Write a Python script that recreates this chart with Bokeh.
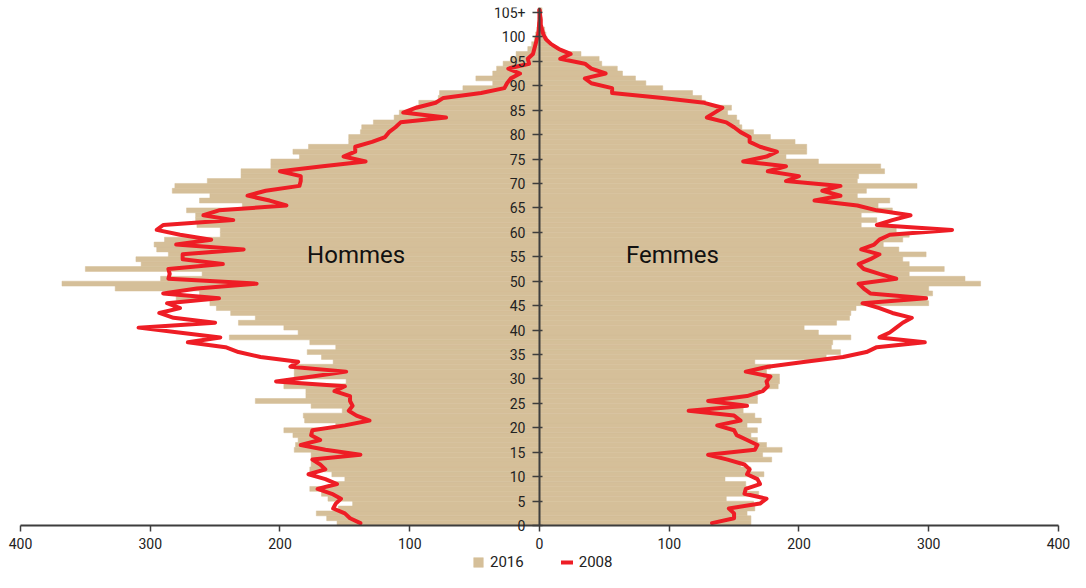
import numpy as np
from bokeh.plotting import figure
from bokeh.models import (LinearAxis, FixedTicker, Legend, LegendItem, Label,
                          ColumnDataSource, Range1d)
from bokeh.embed import file_html
from bokeh.resources import INLINE

# ---------------- data ----------------
ages = list(range(106))
y_ticks = list(range(0, 106, 5))
y_tick_labels = [str(t) for t in y_ticks[:-1]] + ["105+"]
x_ticks = [-400, -300, -200, -100, 0, 100, 200, 300, 400]
x_tick_labels = ["400", "300", "200", "100", "0", "100", "200", "300", "400"]
side_labels = ["Hommes", "Femmes"]
series_labels = ["2016", "2008"]

men_2016 = [156,164,172,155,144,163,168,177,158,150,160,177,176,176,176,189,188,186,190,197,
            157,181,182,152,176,219,180,180,197,149,189,189,189,159,168,179,157,177,239,186,
            197,232,219,238,249,254,280,262,327,368,292,260,350,307,311,286,295,297,289,246,
            246,264,265,265,272,229,262,254,283,281,256,230,230,207,207,185,190,178,147,147,
            138,137,128,112,108,95,93,78,77,59,36,49,36,33,28,22,18,9,6,4,
            3,2,1.5,1,0.5,1]
women_2016 = [163,163,160,166,165,144,169,160,159,143,173,163,155,179,172,187,175,168,163,168,
              160,171,166,157,157,168,168,170,184,185,185,175,178,166,221,232,225,226,240,215,
              204,229,239,240,244,300,299,303,300,340,328,285,312,285,280,298,277,265,280,285,
              275,248,260,248,272,261,270,245,252,291,245,246,266,263,215,190,206,206,197,178,
              165,156,154,152,145,148,128,125,118,95,82,74,64,60,48,46,32,14,8,6,
              5,4,2,2,1,2]
men_2008 = [138,146,150,159,157,153,160,171,156,165,178,165,169,175,138,165,184,169,176,175,
            150,131,141,147,144,146,146,158,150,203,175,149,192,186,215,232,242,271,246,278,
            309,250,282,293,277,287,247,290,264,218,286,285,286,244,275,275,228,280,253,277,
            295,290,236,259,247,195,208,225,211,185,184,184,200,167,134,151,142,142,129,119,
            116,111,107,72,105,95,80,74,45,27,25,22,15,24,8,9,5,4,3,2,
            1,0.5,0.3,0,0,0]
women_2008 = [133,150,150,146,170,175,158,159,170,168,160,162,158,145,130,166,168,160,152,150,
              137,155,150,115,160,130,160,172,176,175,178,159,176,205,234,252,260,297,262,270,
              275,280,287,272,262,249,298,255,250,246,275,262,250,246,255,262,248,258,262,270,
              318,260,272,286,260,245,212,232,218,232,190,200,176,190,157,175,183,170,162,162,
              155,150,144,129,135,141,127,95,56,56,40,35,51,40,35,16,24,15,9,5,
              3,2,1,1,0.5,0]

# ---------------- styles ----------------
FONT = "Roboto"
BAR = "#D5BF99"
RED = "#EE1D25"
AXIS = "#3d3d3d"
TXT = "#222222"

age_mid = np.array(ages) + 0.5
src = ColumnDataSource(dict(
    y=age_mid,
    men_left=-np.array(men_2016, dtype=float),
    women_right=np.array(women_2016, dtype=float),
    men_08=-np.array(men_2008, dtype=float),
    women_08=np.array(women_2008, dtype=float),
    zero=np.zeros(len(ages)),
))

# the frame fills the whole canvas; the ranges extend a little beyond the
# data so that the axes (fixed at 0) and the legend sit inside the frame
p = figure(width=1070, height=572, x_range=Range1d(-415.4, 409.3), y_range=Range1d(-9.6, 106),
           output_backend="svg", toolbar_location=None,
           x_axis_location=None, y_axis_location=None,
           min_border_left=0, min_border_right=0, min_border_top=7, min_border_bottom=0)
p.xgrid.visible = False
p.ygrid.visible = False
p.outline_line_color = None
p.background_fill_color = "white"

bars_m = p.hbar(y="y", left="men_left", right="zero", height=1, source=src,
                fill_color=BAR, line_color=BAR, line_width=0.5)
p.hbar(y="y", left="zero", right="women_right", height=1, source=src,
       fill_color=BAR, line_color=BAR, line_width=0.5)
line_m = p.line(x="men_08", y="y", source=src, line_color=RED, line_width=4,
                line_join="round", line_cap="round")
p.line(x="women_08", y="y", source=src, line_color=RED, line_width=4,
       line_join="round", line_cap="round")

# x axis at age 0
xa = LinearAxis(fixed_location=0, ticker=FixedTicker(ticks=x_ticks),
                major_label_overrides=dict(zip(x_ticks, x_tick_labels)),
                bounds=(-400, 400))
xa.minor_tick_line_color = None
xa.axis_line_color = AXIS
xa.axis_line_width = 2
xa.major_tick_line_color = AXIS
xa.major_tick_line_width = 1.5
xa.major_tick_out = 6
xa.major_tick_in = 0
xa.major_label_standoff = 6
xa.major_label_text_font = FONT
xa.major_label_text_font_size = "14px"
xa.major_label_text_color = TXT
p.add_layout(xa, "below")

# central y axis
ya = LinearAxis(fixed_location=0, ticker=FixedTicker(ticks=y_ticks),
                major_label_overrides=dict(zip(y_ticks, y_tick_labels)),
                bounds=(0, 106))
ya.minor_tick_line_color = None
ya.axis_line_color = AXIS
ya.axis_line_width = 2
ya.major_tick_line_color = AXIS
ya.major_tick_line_width = 1.5
ya.major_tick_out = 7
ya.major_tick_in = 3
ya.major_label_standoff = 7
ya.major_label_text_font = FONT
ya.major_label_text_font_size = "14px"
ya.major_label_text_color = TXT
p.add_layout(ya, "left")

# side labels
p.add_layout(Label(x=-141.3, y=55.3, text=side_labels[0], text_align="center",
                   text_baseline="middle", text_font=FONT, text_font_size="24px",
                   text_color="#111111"))
p.add_layout(Label(x=102.5, y=55.3, text=side_labels[1], text_align="center",
                   text_baseline="middle", text_font=FONT, text_font_size="24px",
                   text_color="#111111"))

legend = Legend(items=[LegendItem(label=series_labels[0], renderers=[bars_m]),
                       LegendItem(label=series_labels[1], renderers=[line_m])],
                orientation="horizontal", location=(472, 1),
                glyph_width=12, glyph_height=12, label_width=33, label_height=14,
                label_standoff=6, spacing=37, padding=0, margin=0,
                border_line_color=None, background_fill_alpha=0,
                label_text_font=FONT, label_text_font_size="15px",
                label_text_color=TXT)
p.add_layout(legend)

open("out.html", "w").write(file_html(p, INLINE))
